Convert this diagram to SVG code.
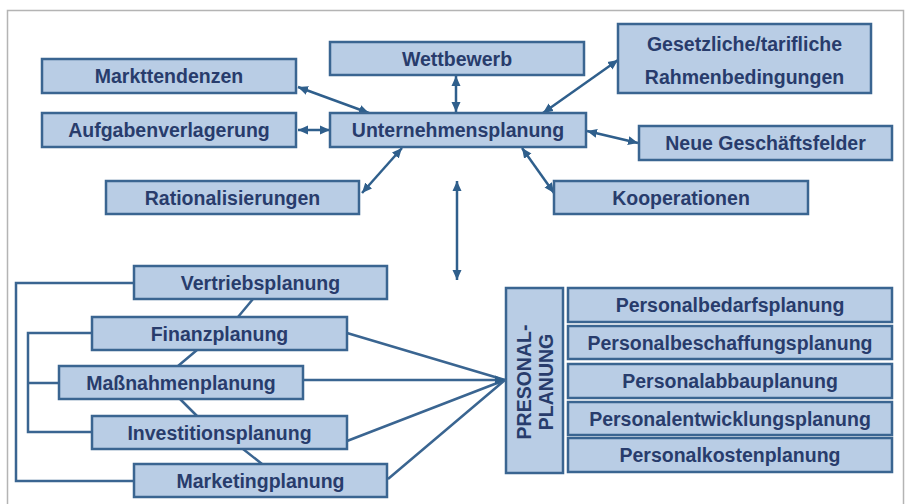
<svg xmlns="http://www.w3.org/2000/svg" width="909" height="504" viewBox="0 0 909 504">
<defs>
<style>
.box{fill:#b9cde5;stroke:#3a6591;stroke-width:2.5}
.t{font-family:"Liberation Sans",Arial,sans-serif;font-weight:bold;font-size:19.5px;fill:#283c6c;text-anchor:middle}
.ln{fill:none;stroke:#3a6591;stroke-width:2.5}
.ar{fill:none;stroke:#2f5f8c;stroke-width:2.5;marker-start:url(#ah);marker-end:url(#ah)}
</style>
<marker id="ah" markerUnits="userSpaceOnUse" markerWidth="11" markerHeight="10" refX="10" refY="5" orient="auto-start-reverse">
<path d="M0,0.5 L10,5 L0,9.5 z" fill="#2f5f8c"/>
</marker>
</defs>
<rect x="7.5" y="10.5" width="896" height="500" fill="#fff" stroke="#b4b4b4" stroke-width="1.5"/>

<g id="connectors">
<line class="ar" x1="298" y1="87" x2="369" y2="113"/>
<line class="ar" x1="298" y1="130" x2="330" y2="130"/>
<line class="ar" x1="362" y1="193" x2="402" y2="148"/>
<line class="ar" x1="456" y1="76" x2="456" y2="112"/>
<line class="ar" x1="618" y1="60" x2="543" y2="113"/>
<line class="ar" x1="587" y1="131" x2="638" y2="143"/>
<line class="ar" x1="522" y1="148" x2="554" y2="193"/>
<line class="ar" x1="457" y1="181" x2="457" y2="280"/>
<path class="ln" d="M347,333 L505,380 M347,441 L505,380 M388,479 L505,380"/>
<line class="ln" x1="303" y1="380" x2="505" y2="380" style="marker-end:url(#ah)"/>
<path class="ln" d="M134,283 H16 V481 H134 M92,333 H28 V432 H92 M59,383 H28"/>
<path class="ln" d="M253,299 L238,317 M197,350 L178,366 M180,399 L197,416 M243,449 L262,464"/>
</g>

<g id="markttendenzen"><rect class="box" x="42" y="59" width="254" height="34"/><text class="t" x="169" y="83">Markttendenzen</text></g>
<g id="aufgabenverlagerung"><rect class="box" x="42" y="113" width="254" height="34"/><text class="t" x="169" y="137">Aufgabenverlagerung</text></g>
<g id="rationalisierungen"><rect class="box" x="106" y="181" width="253" height="33"/><text class="t" x="232.5" y="204.5">Rationalisierungen</text></g>
<g id="wettbewerb"><rect class="box" x="330" y="42" width="254" height="33"/><text class="t" x="457" y="65.5">Wettbewerb</text></g>
<g id="unternehmensplanung"><rect class="box" x="330" y="113" width="256" height="34"/><text class="t" x="458" y="137">Unternehmensplanung</text></g>
<g id="gesetzliche"><rect class="box" x="618" y="24" width="253" height="69"/><text class="t" x="744.5" y="51">Gesetzliche/tarifliche</text><text class="t" x="744.5" y="84">Rahmenbedingungen</text></g>
<g id="neue-geschaeftsfelder"><rect class="box" x="639" y="126" width="253" height="34"/><text class="t" x="765.5" y="150">Neue Geschäftsfelder</text></g>
<g id="kooperationen"><rect class="box" x="554" y="181" width="254" height="33"/><text class="t" x="681" y="204.5">Kooperationen</text></g>

<g id="vertriebsplanung"><rect class="box" x="134" y="266" width="253" height="33"/><text class="t" x="260.5" y="289.5">Vertriebsplanung</text></g>
<g id="finanzplanung"><rect class="box" x="92" y="317" width="255" height="33"/><text class="t" x="219.5" y="340.5">Finanzplanung</text></g>
<g id="massnahmenplanung"><rect class="box" x="59" y="366" width="244" height="33"/><text class="t" x="181" y="389.5">Maßnahmenplanung</text></g>
<g id="investitionsplanung"><rect class="box" x="92" y="416" width="255" height="33"/><text class="t" x="219.5" y="439.5">Investitionsplanung</text></g>
<g id="marketingplanung"><rect class="box" x="134" y="464" width="253" height="33"/><text class="t" x="260.5" y="487.5">Marketingplanung</text></g>

<g id="personalplanung"><rect class="box" x="506" y="288" width="57" height="185"/>
<text class="t" transform="translate(531,382) rotate(-90)" x="0" y="0">PRESONAL-</text>
<text class="t" transform="translate(553,382) rotate(-90)" x="0" y="0">PLANUNG</text></g>

<g id="personalbedarfsplanung"><rect class="box" x="568" y="288" width="324" height="34"/><text class="t" x="730" y="312">Personalbedarfsplanung</text></g>
<g id="personalbeschaffungsplanung"><rect class="box" x="568" y="326" width="324" height="33"/><text class="t" x="730" y="349.5">Personalbeschaffungsplanung</text></g>
<g id="personalabbauplanung"><rect class="box" x="568" y="364" width="324" height="34"/><text class="t" x="730" y="388">Personalabbauplanung</text></g>
<g id="personalentwicklungsplanung"><rect class="box" x="568" y="402" width="324" height="33"/><text class="t" x="730" y="425.5">Personalentwicklungsplanung</text></g>
<g id="personalkostenplanung"><rect class="box" x="568" y="438" width="324" height="34"/><text class="t" x="730" y="462">Personalkostenplanung</text></g>
</svg>
